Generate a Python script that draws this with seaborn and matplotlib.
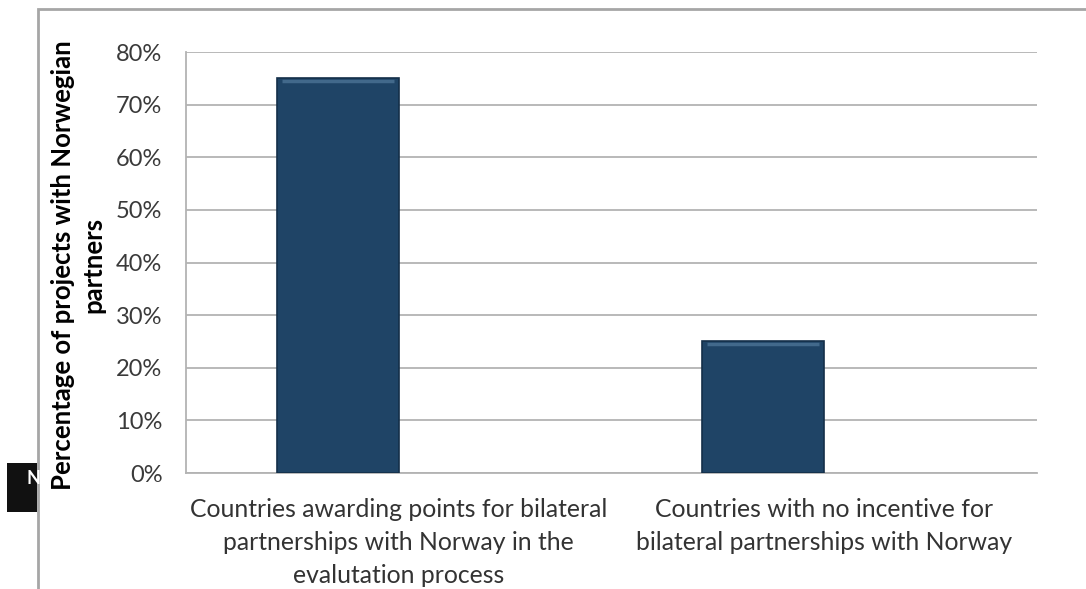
import numpy as np
import pandas as pd
import matplotlib.pyplot as plt
import seaborn as sns
from matplotlib.patches import Rectangle
from matplotlib.ticker import PercentFormatter

categories = ['Countries awarding points for bilateral\npartnerships with Norway in the\nevalutation process',
              'Countries with no incentive for\nbilateral partnerships with Norway']
share = [75, 25]
series = ['Share', 'Empty']   # second slot of each cluster is empty, as in the original

df = pd.DataFrame({'category': categories * 2,
                   'value': share + [float('nan')] * len(share),
                   'series': [series[0]] * 2 + [series[1]] * 2})

sns.set_style('white')
plt.rcParams['font.family'] = ['Lato', 'DejaVu Sans']

fig = plt.figure(figsize=(10.86, 5.89), dpi=100)
ax = fig.add_axes([0.1713, 0.1969, 0.9549 - 0.1713, 0.9117 - 0.1969])

sns.barplot(data=df, x='category', y='value', hue='series', ax=ax,
            palette=['#1f4466', '#1f4466'], saturation=1, width=0.573, gap=0,
            edgecolor='#142f49', linewidth=1.2, legend=False, zorder=3)
xlim = ax.get_xlim()

# light bevel along the top of each bar
for p in ax.patches:
    h = p.get_height()
    if np.isfinite(h) and h > 0:
        x0, w = p.get_x(), p.get_width()
        ax.plot([x0 + w * 0.04, x0 + w * 0.96], [h - 0.5, h - 0.5],
                color='#42698b', linewidth=2.5, solid_capstyle='butt', zorder=4)
ax.set_xlim(xlim)

ax.set_ylim(0, 80)
ax.set_yticks(range(0, 81, 10))
ax.yaxis.set_major_formatter(PercentFormatter(decimals=0))
ax.grid(axis='y', color='#b3b3b3', linewidth=1.3, zorder=0)
ax.set_axisbelow(True)
for side in ['top', 'right']:
    ax.spines[side].set_visible(False)
ax.spines['left'].set_color('#b3b3b3')
ax.spines['left'].set_linewidth(1.3)
ax.spines['bottom'].set_color('#b3b3b3')
ax.spines['bottom'].set_linewidth(1.3)
ax.tick_params(axis='y', labelsize=17, colors='#3a3a3a', length=0, pad=17)
ax.tick_params(axis='x', labelsize=17.8, colors='#333333', length=0, pad=18)
for lab in ax.get_xticklabels():
    lab.set_linespacing(1.52)
ax.set_xlabel('')
ax.set_ylabel('Percentage of projects with Norwegian\npartners', fontsize=18.5,
              fontweight='bold', color='black', multialignment='center',
              linespacing=1.3)
ax.yaxis.set_label_coords(-0.095, 0.494)

# outer chart border and the clipped black box at bottom left
fig.patches.append(Rectangle((38 / 1086, -0.05), 1.1, 1 - 9 / 589 + 0.05,
                             transform=fig.transFigure, fill=False,
                             edgecolor='#a6a6a6', linewidth=2, zorder=0))
fig.patches.append(Rectangle((7 / 1086, 1 - 512 / 589), 30 / 1086, 49 / 589,
                             transform=fig.transFigure, facecolor='#111111',
                             edgecolor='none', zorder=1))
fig.text(26 / 1086, 1 - 478 / 589, 'N', color='white', fontsize=13,
         fontweight='bold', ha='left', va='center')

fig.savefig('out.png', dpi=100)
